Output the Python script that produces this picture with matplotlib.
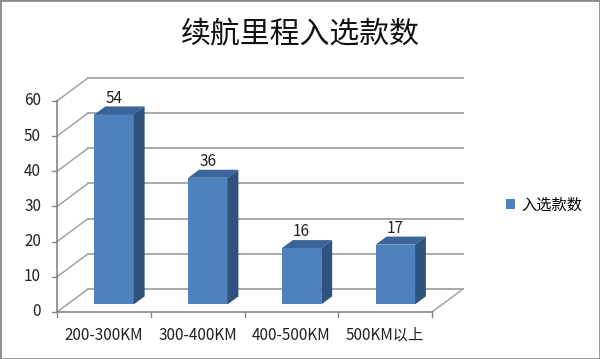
import matplotlib.pyplot as plt
import numpy as np
from matplotlib.patches import Rectangle, Polygon

plt.rcParams['font.family'] = ['Noto Sans CJK SC', 'DejaVu Sans']

categories = ['200-300KM', '300-400KM', '400-500KM', '500KM以上']
values = [54, 36, 16, 17]
yticks = [0, 10, 20, 30, 40, 50, 60]
series_name = '入选款数'
title = '续航里程入选款数'

# pixel layout of the front plane (value 0 line and scale)
X0, XS = 57, 93.75      # px of category 0 edge, px per category
Y0, YS = 312, 3.517     # px of value 0, px per unit
W, H = 600, 359
ddx, ddy = 31 / XS, 23 / YS   # depth offset in data units
f0, f1 = 0.33, 0.68           # bar front / back depth fraction
bw = 0.42

front_c = '#4F81BD'
top_c = '#3B659A'
side_c = '#30527E'
grid_c = '#A3A3A3'
axis_c = '#868686'

fig = plt.figure(figsize=(6, 3.59), dpi=100)
xlim = (-0.4, 4.6)
ylim = (-10, 70)
px_l = X0 + xlim[0] * XS
px_r = X0 + xlim[1] * XS
px_b = Y0 - ylim[0] * YS
px_t = Y0 - ylim[1] * YS
ax = fig.add_axes([px_l / W, 1 - px_b / H, (px_r - px_l) / W, (px_b - px_t) / H])
ax.set_xlim(*xlim)
ax.set_ylim(*ylim)
ax.axis('off')

# walls: gridlines on back wall and side wall
for v in yticks:
    ax.plot([ddx, 4 + ddx], [v + ddy, v + ddy], color=grid_c, lw=1.3, zorder=1)
    ax.plot([0, ddx], [v, v + ddy], color=grid_c, lw=1.1, zorder=1)
    ax.plot([-0.055, 0], [v, v], color=axis_c, lw=1, zorder=2)
    ax.text(-0.17, v, str(v), ha='right', va='center', fontsize=11, color='#222222')

# floor edges and axes
ax.plot([4, 4 + ddx], [0, ddy], color=grid_c, lw=1.1, zorder=1)
ax.plot([0, 4], [0, 0], color=axis_c, lw=1.2, zorder=2)
ax.plot([0, 0], [0, 60], color=axis_c, lw=1.2, zorder=2)
for k in range(5):
    ax.plot([k, k], [0, -1.4], color=axis_c, lw=1, zorder=2)

x = np.arange(len(values)) + 0.5
xf = x + f0 * ddx
bars = ax.bar(xf, values, width=bw, bottom=f0 * ddy, color=front_c,
              label=series_name, zorder=4)
fd = (f1 - f0)
for xi, v in zip(xf, values):
    xl, xr = xi - bw / 2, xi + bw / 2
    yb, yt = f0 * ddy, v + f0 * ddy
    ax.add_patch(Polygon([(xl, yt), (xr, yt), (xr + fd * ddx, yt + fd * ddy),
                          (xl + fd * ddx, yt + fd * ddy)], closed=True,
                         facecolor=top_c, edgecolor='none', zorder=5))
    ax.add_patch(Polygon([(xr, yb), (xr, yt), (xr + fd * ddx, yt + fd * ddy),
                          (xr + fd * ddx, yb + fd * ddy)], closed=True,
                         facecolor=side_c, edgecolor='none', zorder=5))
    ax.text(xi, yt + 4.6, str(v), ha='center', va='center', fontsize=11,
            color='#222222', zorder=6)

for xi, lab in zip(x, categories):
    ax.text(xi, -6.6, lab, ha='center', va='center', fontsize=11, color='#222222')

fig.text(300 / W, 1 - 34 / H, title, ha='center', va='center', fontsize=21.5,
         color='#111111')

fig.legend(handles=[bars], labels=[series_name], loc='center left',
           bbox_to_anchor=(500 / W, 1 - 205 / H), frameon=False, fontsize=11,
           handlelength=0.6, handleheight=0.6, handletextpad=0.4,
           borderaxespad=0)

fig.patches.append(Rectangle((0, 0), 1, 1, fill=False, edgecolor='#8C8C8C',
                             lw=2, transform=fig.transFigure))

fig.savefig('out.png', dpi=100)
